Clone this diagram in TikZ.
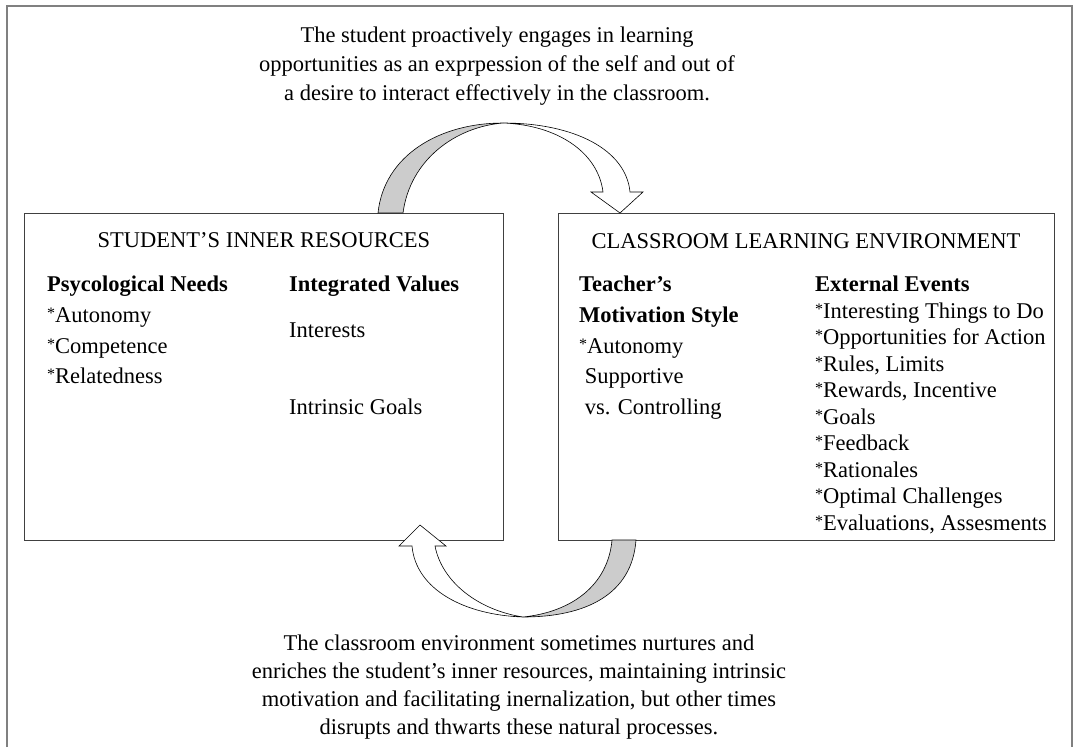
\documentclass[tikz,border=0pt]{standalone}
\usepackage{fontspec}
\setmainfont{Liberation Serif}
\usetikzlibrary{positioning}
\definecolor{framegray}{RGB}{128,128,128}
\definecolor{bandgray}{RGB}{204,204,204}
% small raised asterisk in front of list items
\newcommand\itemstar{\raisebox{4pt}{\fontsize{16}{16}\selectfont *}}

\begin{document}
\begin{tikzpicture}[x=1pt,y=-1pt,
		box/.style={draw=black!75, line width=0.9pt, inner sep=0pt},
		title/.style={font=\fontsize{22.5}{26}\selectfont, inner sep=0pt},
		note/.style={font=\fontsize{22.5}{#1}\selectfont, align=center, inner sep=0pt},
		list/.style={font=\fontsize{22.5}{30.7}\selectfont, align=left, inner sep=0pt, anchor=north west},
		events/.style={font=\fontsize{22.5}{26.5}\selectfont, align=left, inner sep=0pt, anchor=north west},
		band/.style={fill=bandgray, draw=black, line width=0.6pt},
		turn/.style={fill=white, draw=black, line width=0.6pt}]
	\useasboundingbox (0,0) rectangle (1075,747);
	% open frame round the figure
	\draw[framegray, line width=2pt] (7,747) -- (7,6) -- (1072,6) -- (1072,747);

	% the two boxes
	\node[box, minimum width=479, minimum height=327] (inner) at (263.5,376.5) {};
	\node[box, minimum width=496, minimum height=327] (env) at (806,376.5) {};

	\node[title] (innertitle) at (264,240) {STUDENT’S INNER RESOURCES};
	\node[title] (envtitle) at (806,241) {CLASSROOM LEARNING ENVIRONMENT};

	% left box
	\node[list] (needs) at (47,276) {\textbf{Psycological Needs}\\\itemstar Autonomy\\\itemstar Competence\\\itemstar Relatedness};
	\node[list] (values) at (289,276) {\textbf{Integrated Values}};
	\node[title, anchor=west] (interests) at (289,330) {Interests};
	\node[title, anchor=west] (goals) at (289,407) {Intrinsic Goals};

	% right box
	\node[list] (style) at (579,276) {\textbf{Teacher’s}\\\textbf{Motivation Style}\\\itemstar Autonomy\\\ Supportive\\\ vs. Controlling};
	\node[events] (external) at (815,276) {\textbf{External Events}\\\itemstar Interesting Things to Do\\\itemstar Opportunities for Action\\\itemstar Rules, Limits\\\itemstar Rewards, Incentive\\\itemstar Goals\\\itemstar Feedback\\\itemstar Rationales\\\itemstar Optimal Challenges\\\itemstar Evaluations, Assesments};

	% upper curved arrow
	\filldraw[band] (378,213) .. controls (384,155) and (440,123) .. (503,123)
		.. controls (455,127) and (410,160) .. (403,213) -- cycle;
	\filldraw[turn] (503,123) .. controls (575,123) and (626,150) .. (630,192)
		-- (643,192) -- (620,213) -- (591,192) -- (603,192)
		.. controls (598,152) and (557,125) .. (503,123) -- cycle;

	% lower curved arrow
	\filldraw[band] (636,540) .. controls (632,595) and (585,617) .. (523,617)
		.. controls (572,612) and (608,585) .. (612,540) -- cycle;
	\filldraw[turn] (523,617) .. controls (465,615) and (416,590) .. (412,546)
		-- (399,546) -- (420,525) -- (446,546) -- (435,546)
		.. controls (442,582) and (478,610) .. (523,617) -- cycle;

	% captions
	\node[note=29] (proactive) at (497,66) {The student proactively engages in learning\\opportunities as an exprpession of the self and out of\\a desire to interact effectively in the classroom.};
	\node[note=28] (nurture) at (519,687) {The classroom environment sometimes nurtures and\\enriches the student’s inner resources, maintaining intrinsic\\motivation and facilitating inernalization, but other times\\disrupts and thwarts these natural processes.};
\end{tikzpicture}
\end{document}
